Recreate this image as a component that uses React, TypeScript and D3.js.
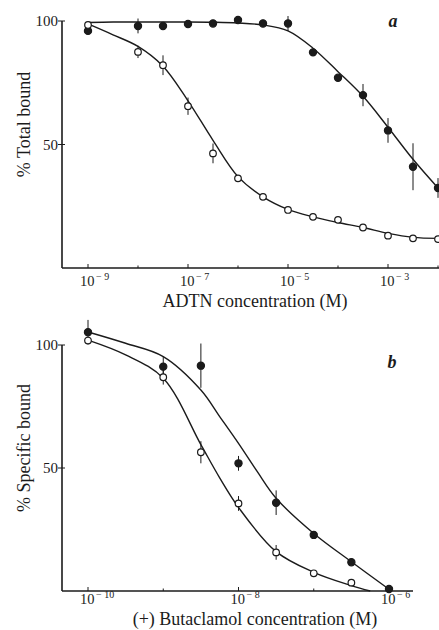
import React, { useRef, useEffect } from 'react';
import * as d3 from 'd3';

// Panel a: ADTN displacement (log10 of molar concentration)
const adtnLogConc = [-9, -8, -7.5, -7, -6.5, -6, -5.5, -5, -4.5, -4, -3.5, -3, -2.5, -2];
const adtnFilled = [96, 98, 98, 98.8, 99, 100.4, 99, 99, 87.3, 77, 70, 55.7, 41, 32.4];
const adtnFilledErr = [0, 3, 0, 0, 0, 0, 1.5, 3, 0, 0, 4.5, 5, 9.5, 4];
const adtnOpen = [98.4, 87.5, 82.1, 65.5, 46.4, 36.3, 28.8, 23.5, 20.7, 19.5, 16.4, 13.1, 12, 11.7];
const adtnOpenErr = [0, 2.5, 4, 3.5, 4, 1.2, 1.2, 0, 0, 0, 0, 0, 0, 0];

// fitted curves at half decades
const adtnFitLogConc = [-9, -8.5, -8, -7.5, -7, -6.5, -6, -5.5, -5, -4.5, -4, -3.5, -3, -2.5, -2];
const adtnFilledFit = [99.4, 99.6, 99.6, 99.6, 99.6, 99.5, 99.2, 98.4, 96, 89, 79.5, 69.5, 57, 44, 32.4];
const adtnOpenFit = [98.8, 94.4, 89.7, 81.7, 67.7, 51.7, 37, 28.8, 23.7, 20.7, 18.4, 16.4, 14, 12.4, 12];

// Panel b: (+) butaclamol displacement
const butLogConc = [-10, -9, -8.5, -8, -7.5, -7, -6.5, -6];
const butFilled = [105.2, 91.2, 91.6, 51.9, 35.9, 22.8, 11.7, 0.8];
const butFilledErr = [5, 4, 9, 3, 5, 0, 0, 0];
const butOpenLogConc = [-10, -9, -8.5, -8, -7.5, -7, -6.5];
const butOpen = [101.8, 86.9, 56.4, 35.6, 15.7, 7.2, 3.4];
const butOpenErr = [0, 3, 4.5, 3, 3, 0, 0];

const butFilledFitLogConc = [-10, -9.5, -9, -8.5, -8.25, -8, -7.75, -7.5, -7, -6.5, -6];
const butFilledFit = [105.3, 100.7, 95.3, 81.7, 70.9, 60, 48.5, 37.7, 23.4, 11.9, 0.7];
const butOpenFitLogConc = [-10, -9.5, -9, -8.5, -8.25, -8, -7.5, -7, -6.5, -6.25];
const butOpenFit = [102, 96, 86.5, 59.5, 46, 34, 16, 7.6, 2.2, 0];

// axis ticks (decade exponents)
const adtnDecades = [-9, -8, -7, -6, -5, -4, -3, -2];
const adtnLabelled = [-9, -7, -5, -3];
const butDecades = [-10, -9, -8, -7, -6];
const butLabelled = [-10, -8, -6];
const pctTicks = [50, 100];

const FONT = '"Liberation Serif", "Times New Roman", serif';
const INK = '#1b1b1b';

interface Series {
  logConc: number[];
  values: number[];
  errors: number[];
  filled: boolean;
}

interface Fit {
  logConc: number[];
  values: number[];
}

interface Panel {
  x: d3.ScaleLogarithmic<number, number>;
  y: d3.ScaleLinear<number, number>;
  xExtent: [number, number];
  decades: number[];
  labelled: number[];
  yLabel: string;
  xTitle: string;
  tickBaseline: number;
  titleBaseline: number;
  letter: string;
  letterPos: [number, number];
  series: Series[];
  fits: Fit[];
}

function drawPanel(svg: d3.Selection<SVGSVGElement, unknown, null, undefined>, p: Panel) {
  const g = svg.append('g');
  const axisY = p.y(0);
  const top = p.y(100);

  // axes
  g.append('line')
    .attr('x1', p.xExtent[0]).attr('x2', p.xExtent[1])
    .attr('y1', axisY).attr('y2', axisY)
    .attr('stroke', INK).attr('stroke-width', 1.6);
  g.append('line')
    .attr('x1', p.xExtent[0]).attr('x2', p.xExtent[0])
    .attr('y1', top).attr('y2', axisY)
    .attr('stroke', INK).attr('stroke-width', 1.6);

  // y ticks
  pctTicks.forEach(t => {
    g.append('line')
      .attr('x1', p.xExtent[0] - 4).attr('x2', p.xExtent[0] + 3)
      .attr('y1', p.y(t)).attr('y2', p.y(t))
      .attr('stroke', INK).attr('stroke-width', 1);
    g.append('text')
      .attr('x', p.xExtent[0] - 4)
      .attr('y', p.y(t) + 5)
      .attr('text-anchor', 'end')
      .style('font-family', FONT)
      .style('font-size', '15px')
      .style('fill', INK)
      .text(String(t));
  });

  // x ticks
  p.decades.forEach(e => {
    const major = p.labelled.includes(e);
    g.append('line')
      .attr('x1', p.x(10 ** e)).attr('x2', p.x(10 ** e))
      .attr('y1', axisY).attr('y2', axisY - (major ? 4 : 2.5))
      .attr('stroke', INK).attr('stroke-width', 1);
  });
  p.labelled.forEach(e => {
    const t = g.append('text')
      .attr('x', p.x(10 ** e) - 8)
      .attr('y', p.tickBaseline)
      .style('font-family', FONT)
      .style('font-size', '14.5px')
      .style('fill', INK);
    t.append('tspan').text('10');
    t.append('tspan')
      .attr('dy', -6)
      .attr('dx', 1.5)
      .style('font-size', '10px')
      .text('\u2212 ' + Math.abs(e));
  });

  // axis titles
  g.append('text')
    .attr('transform', `translate(30,${(top + axisY) / 2 - 20}) rotate(-90)`)
    .attr('text-anchor', 'middle')
    .style('font-family', FONT)
    .style('font-size', '18px')
    .style('fill', INK)
    .text(p.yLabel);
  g.append('text')
    .attr('x', 255)
    .attr('y', p.titleBaseline)
    .attr('text-anchor', 'middle')
    .style('font-family', FONT)
    .style('font-size', '18px')
    .style('fill', INK)
    .text(p.xTitle);

  g.append('text')
    .attr('x', p.letterPos[0])
    .attr('y', p.letterPos[1])
    .attr('text-anchor', 'middle')
    .style('font-family', FONT)
    .style('font-size', '18px')
    .style('font-style', 'italic')
    .style('font-weight', 'bold')
    .style('fill', INK)
    .text(p.letter);

  // fitted curves
  const line = d3.line<[number, number]>()
    .x(d => p.x(10 ** d[0]))
    .y(d => p.y(d[1]))
    .curve(d3.curveCatmullRom.alpha(0.5));
  p.fits.forEach(f => {
    g.append('path')
      .attr('d', line(f.logConc.map((c, i) => [c, f.values[i]] as [number, number])))
      .attr('fill', 'none')
      .attr('stroke', INK)
      .attr('stroke-width', 1.4);
  });

  // error bars and points
  p.series.forEach(s => {
    s.logConc.forEach((c, i) => {
      if (s.errors[i] > 0) {
        g.append('line')
          .attr('x1', p.x(10 ** c)).attr('x2', p.x(10 ** c))
          .attr('y1', p.y(s.values[i] - s.errors[i]))
          .attr('y2', p.y(s.values[i] + s.errors[i]))
          .attr('stroke', INK).attr('stroke-width', 1);
      }
    });
    g.selectAll(null)
      .data(s.logConc.map((c, i) => [c, s.values[i]]))
      .join('circle')
      .attr('cx', d => p.x(10 ** d[0]))
      .attr('cy', d => p.y(d[1]))
      .attr('r', s.filled ? 3.6 : 3.3)
      .attr('fill', s.filled ? INK : '#fff')
      .attr('stroke', INK)
      .attr('stroke-width', 1.2);
  });
}

const App: React.FC = () => {
  const svgRef = useRef<SVGSVGElement>(null);

  useEffect(() => {
    if (!svgRef.current) return;
    const svg = d3.select(svgRef.current);
    svg.selectAll('*').remove();

    drawPanel(svg, {
      x: d3.scaleLog().domain([1e-9, 1e-3]).range([88, 388]),
      y: d3.scaleLinear().domain([0, 100]).range([268, 21]),
      xExtent: [62, 439],
      decades: adtnDecades,
      labelled: adtnLabelled,
      yLabel: '% Total bound',
      xTitle: 'ADTN concentration (M)',
      tickBaseline: 286,
      titleBaseline: 307,
      letter: 'a',
      letterPos: [393, 27],
      series: [
        { logConc: adtnLogConc, values: adtnFilled, errors: adtnFilledErr, filled: true },
        { logConc: adtnLogConc, values: adtnOpen, errors: adtnOpenErr, filled: false },
      ],
      fits: [
        { logConc: adtnFitLogConc, values: adtnFilledFit },
        { logConc: adtnFitLogConc, values: adtnOpenFit },
      ],
    });

    drawPanel(svg, {
      x: d3.scaleLog().domain([1e-10, 1e-6]).range([88, 389]),
      y: d3.scaleLinear().domain([0, 100]).range([591, 345]),
      xExtent: [62, 413],
      decades: butDecades,
      labelled: butLabelled,
      yLabel: '% Specific bound',
      xTitle: '(+) Butaclamol concentration (M)',
      tickBaseline: 604,
      titleBaseline: 625,
      letter: 'b',
      letterPos: [392, 368],
      series: [
        { logConc: butLogConc, values: butFilled, errors: butFilledErr, filled: true },
        { logConc: butOpenLogConc, values: butOpen, errors: butOpenErr, filled: false },
      ],
      fits: [
        { logConc: butFilledFitLogConc, values: butFilledFit },
        { logConc: butOpenFitLogConc, values: butOpenFit },
      ],
    });
  }, []);

  return (
    <svg
      ref={svgRef}
      width={439}
      height={630}
      style={{ position: 'absolute', left: 0, top: 0, background: '#fff', display: 'block' }}
    />
  );
};

export default App;
